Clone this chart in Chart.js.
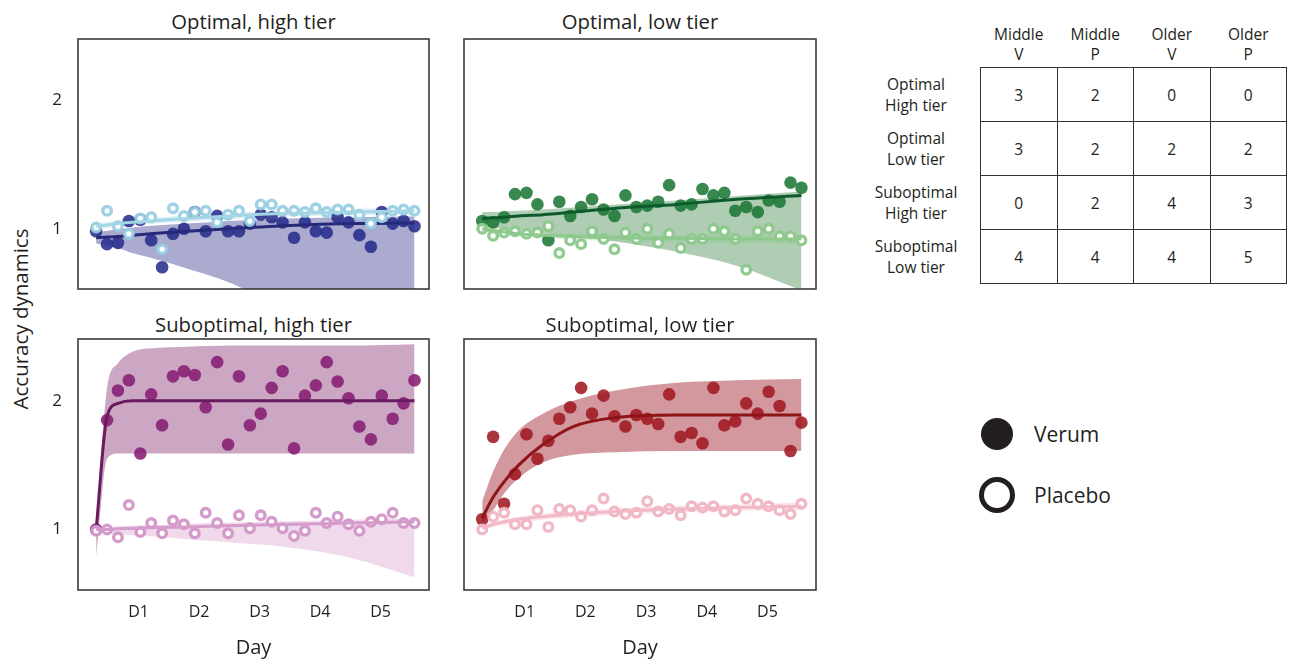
<!DOCTYPE html>
<html>
<head>
<meta charset="utf-8">
<title>Accuracy dynamics</title>
<script src="https://cdn.jsdelivr.net/npm/chart.js@4.4.1/dist/chart.umd.min.js"></script>
<style>
  body { margin: 0; width: 1290px; height: 662px; position: relative; overflow: hidden;
         background: #fff; font-family: 'Open Sans', sans-serif; color: #231f20; }
  .panel { position: absolute; }
  .panel canvas { display: block; }
  .panel-title { position: absolute; width: 360px; text-align: center; font-size: 20.3px; line-height: 24px; }
  #yTitle { position: absolute; left: 20px; top: 319px; transform: translate(-50%, -50%) rotate(-90deg);
            font-size: 20.5px; white-space: nowrap; }
  #counts { position: absolute; left: 852px; top: 20px; border-collapse: collapse; font-size: 15.5px; line-height: 20px; }
  #counts th { font-weight: normal; text-align: center; padding: 0; }
  #counts thead th { height: 44px; vertical-align: bottom; padding-bottom: 3px; }
  #counts tbody th { width: 128px; line-height: 21px; }
  #counts td { border: 1.5px solid #333; width: 75.5px; height: 53px; text-align: center; padding: 0; }
  .key { position: absolute; left: 1034px; font-size: 21px; line-height: 28px; }
  .dot { position: absolute; border-radius: 50%; box-sizing: border-box; }
  .dot.filled { left: 981px; top: 418px; width: 32px; height: 32px; background: #231f20; }
  .dot.open { left: 979px; top: 477px; width: 36px; height: 36px; border: 5px solid #231f20; background: #fff; }
</style>
</head>
<body>
<div id="yTitle">Accuracy dynamics</div>
<table id="counts"></table>
<span class="dot filled"></span><div class="key" style="top:420px">Verum</div>
<span class="dot open"></span><div class="key" style="top:481px">Placebo</div>

<script>
// ---- data ----
const sessionDays = [0.30, 0.48, 0.66, 0.84, 1.03, 1.21, 1.39, 1.57, 1.75, 1.93, 2.11, 2.30, 2.48, 2.66, 2.84,
                     3.02, 3.20, 3.38, 3.57, 3.75, 3.93, 4.11, 4.29, 4.47, 4.65, 4.84, 5.02, 5.20, 5.38, 5.56];
const fitDays = [0.30, 0.48, 0.66, 0.9, 1.3, 1.8, 2.5, 3.5, 4.5, 5.56];
const dayTicks = [1, 2, 3, 4, 5];
const dayLabels = ['D1', 'D2', 'D3', 'D4', 'D5'];
const accuracyTicks = [1, 2];

// Optimal, high tier
const optHighVerum   = [0.98, 0.88, 0.89, 1.06, 1.07, 0.91, 0.70, 0.96, 1.00, 1.13, 0.98, 1.10, 0.98, 0.98, 1.04,
                        1.11, 1.09, 1.05, 0.93, 1.05, 0.98, 0.97, 1.09, 1.05, 0.95, 0.86, 1.13, 1.04, 1.06, 1.02];
const optHighPlacebo = [1.01, 1.14, 1.02, 0.96, 1.08, 1.09, 0.84, 1.16, 1.10, 1.13, 1.14, 1.05, 1.11, 1.14, 1.06,
                        1.19, 1.19, 1.14, 1.14, 1.13, 1.16, 1.13, 1.15, 1.15, 1.11, 1.04, 1.09, 1.14, 1.15, 1.14];
const optHighVerumFit    = [0.93, 0.935, 0.94, 0.95, 0.965, 0.98, 1.0, 1.025, 1.04, 1.045];
const optHighVerumLo     = [0.885, 0.87, 0.85, 0.81, 0.76, 0.69, 0.58, 0.35, 0.10, -0.2];
const optHighVerumHi     = [0.97, 0.985, 0.995, 1.01, 1.025, 1.04, 1.06, 1.08, 1.09, 1.095];
const optHighPlaceboFit  = [1.02, 1.03, 1.04, 1.05, 1.065, 1.08, 1.10, 1.12, 1.13, 1.14];
const optHighPlaceboLo   = [1.0, 1.005, 1.015, 1.025, 1.04, 1.055, 1.075, 1.095, 1.105, 1.11];
const optHighPlaceboHi   = [1.04, 1.055, 1.065, 1.075, 1.09, 1.105, 1.125, 1.145, 1.155, 1.165];

// Optimal, low tier
const optLowVerum   = [1.06, 1.05, 1.09, 1.27, 1.28, 1.19, 0.91, 1.21, 1.10, 1.17, 1.23, 1.15, 1.10, 1.26, 1.17,
                       1.18, 1.21, 1.34, 1.18, 1.19, 1.31, 1.26, 1.28, 1.14, 1.17, 1.13, 1.22, 1.21, 1.36, 1.32];
const optLowPlacebo = [1.00, 0.945, 0.97, 0.98, 0.96, 0.97, 1.02, 0.81, 0.91, 0.88, 0.98, 0.92, 0.84, 0.97, 0.92,
                       1.00, 0.89, 0.96, 0.85, 0.92, 0.92, 1.00, 0.98, 0.92, 0.68, 0.98, 1.00, 0.94, 0.94, 0.91];
const optLowVerumFit    = [1.08, 1.085, 1.09, 1.10, 1.11, 1.13, 1.16, 1.19, 1.23, 1.26];
const optLowVerumLo     = [1.01, 1.005, 1.0, 0.99, 0.965, 0.94, 0.90, 0.82, 0.71, 0.52];
const optLowVerumHi     = [1.13, 1.13, 1.135, 1.14, 1.15, 1.165, 1.19, 1.22, 1.255, 1.29];
const optLowPlaceboFit  = [1.0, 0.985, 0.975, 0.96, 0.95, 0.94, 0.93, 0.925, 0.92, 0.92];
const optLowPlaceboLo   = [0.98, 0.965, 0.955, 0.94, 0.93, 0.915, 0.905, 0.895, 0.89, 0.885];
const optLowPlaceboHi   = [1.02, 1.005, 0.995, 0.98, 0.97, 0.96, 0.955, 0.95, 0.95, 0.95];

// Suboptimal, high tier
const subHighVerum   = [1.00, 1.85, 2.08, 2.16, 1.59, 2.05, 1.81, 2.19, 2.23, 2.20, 1.95, 2.30, 1.66, 2.19, 1.81,
                        1.90, 2.10, 2.23, 1.63, 2.04, 2.12, 2.30, 2.15, 2.02, 1.80, 1.70, 2.04, 1.86, 1.98, 2.16];
const subHighPlacebo = [0.99, 1.00, 0.94, 1.19, 0.98, 1.05, 0.97, 1.07, 1.04, 0.97, 1.13, 1.05, 0.97, 1.11, 1.01,
                        1.11, 1.06, 1.01, 0.95, 0.99, 1.13, 1.05, 1.10, 1.04, 0.99, 1.06, 1.08, 1.13, 1.05, 1.05];
const subHighVerumFit    = [1.0, 1.88, 1.98, 2.0, 2.0, 2.0, 2.0, 2.0, 2.0, 2.0];
const subHighVerumLo     = [0.79, 1.55, 1.59, 1.59, 1.59, 1.59, 1.59, 1.59, 1.59, 1.59];
const subHighVerumHi     = [1.05, 2.10, 2.29, 2.38, 2.41, 2.42, 2.43, 2.43, 2.43, 2.44];
const subHighPlaceboFit  = [1.0, 1.0, 1.005, 1.01, 1.015, 1.02, 1.03, 1.04, 1.05, 1.06];
const subHighPlaceboLo   = [0.99, 0.975, 0.965, 0.955, 0.945, 0.925, 0.90, 0.86, 0.78, 0.63];
const subHighPlaceboHi   = [1.01, 1.02, 1.025, 1.03, 1.035, 1.045, 1.055, 1.065, 1.075, 1.085];

// Suboptimal, low tier
const subLowVerum   = [1.08, 1.72, 1.20, 1.43, 1.74, 1.55, 1.69, 1.86, 1.95, 2.10, 1.90, 2.04, 1.88, 1.80, 1.89,
                       1.86, 1.82, 2.05, 1.72, 1.75, 1.67, 2.10, 1.81, 1.84, 1.98, 1.90, 2.07, 1.96, 1.61, 1.83];
const subLowPlacebo = [1.00, 1.10, 1.13, 1.04, 1.04, 1.15, 1.02, 1.16, 1.15, 1.10, 1.15, 1.24, 1.14, 1.12, 1.13,
                       1.22, 1.14, 1.16, 1.11, 1.18, 1.17, 1.18, 1.14, 1.15, 1.24, 1.20, 1.18, 1.15, 1.12, 1.20];
const subLowVerumFit    = [1.09, 1.25, 1.37, 1.50, 1.66, 1.80, 1.87, 1.89, 1.89, 1.89];
const subLowVerumLo     = [1.05, 1.15, 1.28, 1.40, 1.52, 1.58, 1.60, 1.61, 1.61, 1.61];
const subLowVerumHi     = [1.22, 1.45, 1.62, 1.77, 1.90, 2.00, 2.08, 2.14, 2.16, 2.17];
const subLowPlaceboFit  = [1.01, 1.04, 1.06, 1.08, 1.10, 1.12, 1.14, 1.16, 1.17, 1.18];
const subLowPlaceboLo   = [0.99, 1.02, 1.035, 1.055, 1.075, 1.095, 1.115, 1.135, 1.145, 1.15];
const subLowPlaceboHi   = [1.03, 1.06, 1.08, 1.10, 1.125, 1.145, 1.165, 1.185, 1.195, 1.21];

// participant table
const colTop    = ['Middle', 'Middle', 'Older', 'Older'];
const colBottom = ['V', 'P', 'V', 'P'];
const rowTop    = ['Optimal', 'Optimal', 'Suboptimal', 'Suboptimal'];
const rowBottom = ['High tier', 'Low tier', 'High tier', 'Low tier'];
const participantCounts = [
  [3, 2, 0, 0],
  [3, 2, 2, 2],
  [0, 2, 4, 3],
  [4, 4, 4, 5],
];

// ---- chart setup ----
Chart.defaults.font.family = "'Open Sans', sans-serif";
Chart.defaults.color = '#231f20';

const padL = 44, padR = 3, padT = 2;

const frame = {
  id: 'frame',
  afterDraw(chart) {
    const { ctx, chartArea: a } = chart;
    ctx.save();
    ctx.strokeStyle = '#3a3a3a';
    ctx.lineWidth = 1.6;
    ctx.strokeRect(a.left, a.top, a.right - a.left, a.bottom - a.top);
    ctx.restore();
  }
};

const toPts = (xs, ys) => xs.map((x, i) => ({ x, y: ys[i] }));

function fitLine(ys, color, order) {
  return { data: toPts(fitDays, ys), borderColor: color, borderWidth: 3, pointRadius: 0,
           fill: false, cubicInterpolationMode: 'monotone', order };
}
function bandEdge(ys, order, fill, color) {
  return { data: toPts(fitDays, ys), borderColor: 'rgba(0,0,0,0)', borderWidth: 0, pointRadius: 0,
           cubicInterpolationMode: 'monotone', fill, backgroundColor: color || 'rgba(0,0,0,0)', order };
}

function makePanel(p) {
  const padB = p.showX ? 72 : 2;
  const [bx, by, bw, bh] = p.box;

  const title = document.createElement('div');
  title.className = 'panel-title';
  title.textContent = p.title;
  title.style.left = (bx + bw / 2 - 180) + 'px';
  title.style.top = (by - p.titleGap) + 'px';
  document.body.appendChild(title);

  const wrap = document.createElement('div');
  wrap.className = 'panel';
  wrap.style.left = (bx - padL) + 'px';
  wrap.style.top = (by - padT) + 'px';
  const canvas = document.createElement('canvas');
  canvas.width = padL + bw + padR;
  canvas.height = padT + bh + padB;
  wrap.appendChild(canvas);
  document.body.appendChild(wrap);

  const c = p.colors;
  new Chart(canvas, {
    type: 'line',
    data: {
      datasets: [
        fitLine(p.placeboFit, c.placeboLine, 1),
        { data: toPts(sessionDays, p.placebo), showLine: false, pointRadius: 4.3, pointBorderWidth: 3.4,
          pointBorderColor: c.placebo, pointBackgroundColor: '#fff', order: 2 },
        fitLine(p.verumFit, c.verumLine, 3),
        { data: toPts(sessionDays, p.verum), showLine: false, pointRadius: 6.3, pointBorderWidth: 0,
          pointBackgroundColor: c.verum, order: 4 },
        bandEdge(p.placeboLo, 5, false),
        bandEdge(p.placeboHi, 5, '-1', c.placeboBand),
        bandEdge(p.verumLo, 7, false),
        bandEdge(p.verumHi, 7, '-1', c.verumBand),
      ]
    },
    options: {
      responsive: false,
      animation: false,
      events: [],
      layout: { autoPadding: false, padding: { left: 0, right: padR, top: padT, bottom: 0 } },
      plugins: { legend: { display: false }, tooltip: { enabled: false } },
      scales: {
        x: {
          type: 'linear', min: 0, max: 5.8,
          grid: { display: false, drawTicks: false },
          border: { display: false },
          afterFit: s => { s.height = padB; s.paddingLeft = 0; s.paddingRight = 0; },
          afterBuildTicks: s => { s.ticks = dayTicks.map(v => ({ value: v })); },
          ticks: { display: p.showX, padding: 13, font: { size: 16 },
                   callback: v => dayLabels[dayTicks.indexOf(v)] },
          title: { display: p.showX, text: 'Day', font: { size: 20 }, padding: { top: 0, bottom: 2 } }
        },
        y: {
          min: 0.53, max: 2.48,
          grid: { display: false, drawTicks: false },
          border: { display: false },
          afterFit: s => { s.width = padL; s.paddingTop = 0; s.paddingBottom = 0; },
          afterBuildTicks: s => { s.ticks = accuracyTicks.map(v => ({ value: v })); },
          ticks: { display: p.showY, padding: 16, font: { size: 17 } }
        }
      }
    },
    plugins: [frame]
  });
}

const panels = [
  { title: 'Optimal, high tier', box: [78, 39, 351, 250], titleGap: 30, showY: true, showX: false,
    verum: optHighVerum, placebo: optHighPlacebo,
    verumFit: optHighVerumFit, verumLo: optHighVerumLo, verumHi: optHighVerumHi,
    placeboFit: optHighPlaceboFit, placeboLo: optHighPlaceboLo, placeboHi: optHighPlaceboHi,
    colors: { verum: 'rgba(40,46,140,0.88)', verumLine: '#262a78', verumBand: 'rgba(85,88,160,0.5)',
              placebo: 'rgba(150,205,225,0.92)', placeboLine: '#a4d5e5', placeboBand: 'rgba(160,210,230,0.3)' } },
  { title: 'Optimal, low tier', box: [464, 39, 352, 250], titleGap: 30, showY: false, showX: false,
    verum: optLowVerum, placebo: optLowPlacebo,
    verumFit: optLowVerumFit, verumLo: optLowVerumLo, verumHi: optLowVerumHi,
    placeboFit: optLowPlaceboFit, placeboLo: optLowPlaceboLo, placeboHi: optLowPlaceboHi,
    colors: { verum: 'rgba(30,120,55,0.88)', verumLine: '#0d5a2c', verumBand: 'rgba(75,145,85,0.45)',
              placebo: 'rgba(140,200,140,0.95)', placeboLine: '#8cc98b', placeboBand: 'rgba(140,200,140,0.3)' } },
  { title: 'Suboptimal, high tier', box: [78, 339, 351, 251], titleGap: 27, showY: true, showX: true,
    verum: subHighVerum, placebo: subHighPlacebo,
    verumFit: subHighVerumFit, verumLo: subHighVerumLo, verumHi: subHighVerumHi,
    placeboFit: subHighPlaceboFit, placeboLo: subHighPlaceboLo, placeboHi: subHighPlaceboHi,
    colors: { verum: 'rgba(135,30,115,0.88)', verumLine: '#6a1a5e', verumBand: 'rgba(140,60,125,0.45)',
              placebo: 'rgba(210,150,200,0.95)', placeboLine: '#d59ccb', placeboBand: 'rgba(215,160,205,0.4)' } },
  { title: 'Suboptimal, low tier', box: [464, 339, 352, 251], titleGap: 27, showY: false, showX: true,
    verum: subLowVerum, placebo: subLowPlacebo,
    verumFit: subLowVerumFit, verumLo: subLowVerumLo, verumHi: subLowVerumHi,
    placeboFit: subLowPlaceboFit, placeboLo: subLowPlaceboLo, placeboHi: subLowPlaceboHi,
    colors: { verum: 'rgba(160,25,35,0.88)', verumLine: '#8e1418', verumBand: 'rgba(165,50,60,0.5)',
              placebo: 'rgba(240,180,195,0.95)', placeboLine: '#f2b8c6', placeboBand: 'rgba(240,180,195,0.35)' } },
];

panels.forEach(makePanel);

// ---- participant table ----
function buildTable() {
  const t = document.getElementById('counts');
  let html = '<thead><tr><th></th>';
  colTop.forEach((top, i) => { html += `<th>${top}<br>${colBottom[i]}</th>`; });
  html += '</tr></thead><tbody>';
  participantCounts.forEach((row, r) => {
    html += `<tr><th>${rowTop[r]}<br>${rowBottom[r]}</th>`;
    row.forEach(n => { html += `<td>${n}</td>`; });
    html += '</tr>';
  });
  t.innerHTML = html + '</tbody>';
}
buildTable();
</script>
</body>
</html>
